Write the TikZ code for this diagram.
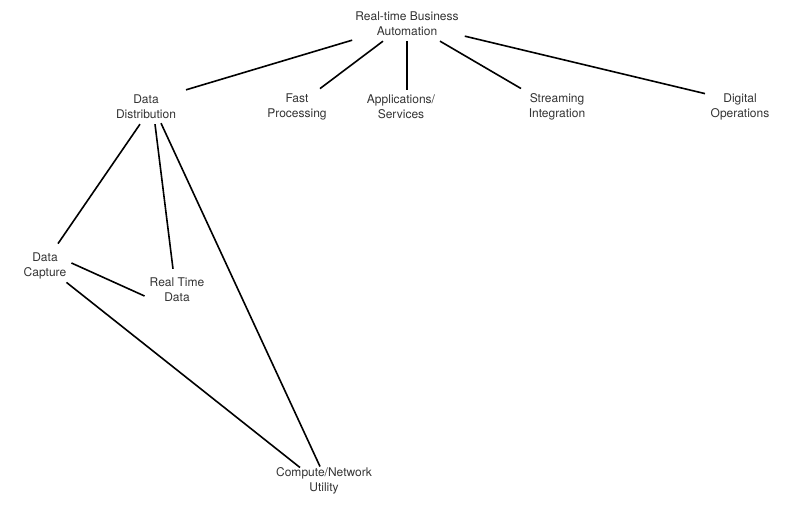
\documentclass[tikz,border=0pt]{standalone}
\usepackage{fontspec}
\setmainfont{TeX Gyre Heros}
\begin{document}
\begin{tikzpicture}[x=1pt,y=-1pt,
  lbl/.style={align=center,inner sep=5pt,text=black!80,font=\fontsize{12}{15}\selectfont},
  link/.style={line width=1.6pt,black}]
\useasboundingbox (0,0) rectangle (800,511);
\node[lbl] (top) at (407,24) {Real-time Business\\Automation};
\node[lbl] (dd) at (146,107) {Data\\Distribution};
\node[lbl] (fp) at (297,107) {Fast\\Processing};
\node[lbl] (as) at (401,107) {Applications/\\Services};
\node[lbl] (si) at (557,107) {Streaming\\Integration};
\node[lbl] (do) at (740,107) {Digital\\Operations};
\node[lbl] (dc) at (45,266) {Data\\Capture};
\node[lbl] (rt) at (177,290) {Real Time\\Data};
\node[lbl] (cn) at (324,481) {Compute/Network\\Utility};
\draw[link] ([xshift=2pt,yshift=1pt]top.south west) -- ([xshift=40pt]dd.north);
\draw[link] ([xshift=-24pt]top.south) -- ([xshift=23pt]fp.north);
\draw[link] (top.south) -- ([xshift=6pt]as.north);
\draw[link] ([xshift=33pt]top.south) -- ([xshift=-36pt]si.north);
\draw[link] ([xshift=1pt,yshift=5pt]top.south east) -- ([xshift=-35pt,yshift=-5pt]do.north);
\draw[link] ([xshift=-6pt]dd.south) -- ([xshift=13pt,yshift=4pt]dc.north);
\draw[link] ([xshift=9pt]dd.south) -- ([xshift=-4pt,yshift=4pt]rt.north);
\draw[link] ([xshift=15pt,yshift=1pt]dd.south) -- ([xshift=-4pt,yshift=-4pt]cn.north);
\draw[link] ([yshift=3pt]dc.east) -- ([yshift=-6pt]rt.west);
\draw[link] ([xshift=-5pt,yshift=2pt]dc.south east) -- ([xshift=-24pt,yshift=-5pt]cn.north);
\end{tikzpicture}
\end{document}
